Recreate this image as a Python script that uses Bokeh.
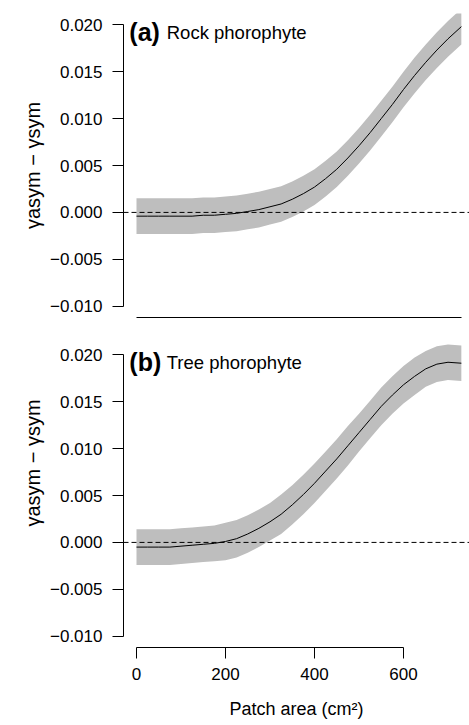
import math
from bokeh.plotting import figure
from bokeh.models import FixedTicker, Span, Label
from bokeh.layouts import column, row
from bokeh.core.properties import value
from bokeh.embed import file_html
from bokeh.resources import INLINE

# ---------------- data ----------------
area = [0, 25, 50, 75, 100, 125, 150, 175, 200, 225, 250, 275, 300, 325, 350,
        375, 400, 425, 450, 475, 500, 525, 550, 575, 600, 625, 650, 675, 700, 730]

rock_mean = [-0.0004, -0.0004, -0.0004, -0.0004, -0.0004, -0.0004, -0.0003, -0.0003,
             -0.0002, -0.0001, 0.0001, 0.0003, 0.0006, 0.0009, 0.0014, 0.0020,
             0.0027, 0.0036, 0.0046, 0.0058, 0.0071, 0.0085, 0.0100, 0.0115,
             0.0131, 0.0146, 0.0160, 0.0173, 0.0185, 0.0198]
rock_upper = [0.0015, 0.0015, 0.0015, 0.0015, 0.0015, 0.0015, 0.0016, 0.0016,
              0.0017, 0.0018, 0.0020, 0.0022, 0.0025, 0.0028, 0.0033, 0.0039,
              0.0046, 0.0055, 0.0065, 0.0077, 0.0090, 0.0104, 0.0119, 0.0134,
              0.0150, 0.0165, 0.0179, 0.0192, 0.0204, 0.0217]
rock_lower = [-0.0023, -0.0023, -0.0023, -0.0023, -0.0023, -0.0023, -0.0022, -0.0022,
              -0.0021, -0.0020, -0.0018, -0.0016, -0.0013, -0.0010, -0.0005, 0.0001,
              0.0008, 0.0017, 0.0027, 0.0039, 0.0052, 0.0066, 0.0081, 0.0096,
              0.0112, 0.0127, 0.0141, 0.0154, 0.0166, 0.0179]

tree_mean = [-0.0005, -0.0005, -0.0005, -0.0005, -0.0004, -0.0003, -0.0002, -0.0001,
             0.0001, 0.0004, 0.0009, 0.0015, 0.0022, 0.0030, 0.0040, 0.0051,
             0.0063, 0.0076, 0.0089, 0.0103, 0.0117, 0.0131, 0.0145, 0.0157,
             0.0168, 0.0177, 0.0185, 0.0190, 0.0192, 0.0191]
tree_upper = [0.0014, 0.0014, 0.0014, 0.0014, 0.0015, 0.0016, 0.0017, 0.0018,
              0.0021, 0.0024, 0.0029, 0.0035, 0.0042, 0.0051, 0.0061, 0.0072,
              0.0084, 0.0097, 0.0110, 0.0124, 0.0137, 0.0151, 0.0165, 0.0177,
              0.0188, 0.0197, 0.0204, 0.0209, 0.0211, 0.0210]
tree_lower = [-0.0024, -0.0024, -0.0024, -0.0024, -0.0023, -0.0022, -0.0021, -0.0020,
              -0.0019, -0.0016, -0.0011, -0.0005, 0.0002, 0.0009, 0.0019, 0.0030,
              0.0042, 0.0055, 0.0068, 0.0082, 0.0097, 0.0111, 0.0125, 0.0137,
              0.0148, 0.0157, 0.0166, 0.0171, 0.0173, 0.0172]

y_ticks = [-0.010, -0.005, 0.0, 0.005, 0.010, 0.015, 0.020]
y_tick_labels = ["\u22120.010", "\u22120.005", "0.000", "0.005", "0.010", "0.015", "0.020"]
x_ticks = [0, 200, 400, 600]
x_tick_labels = ["0", "200", "400", "600"]

panel_tags = ["(a)", "(b)"]
panel_names = ["Rock phorophyte", "Tree phorophyte"]
x_title = "Patch area (cm\u00b2)"
y_title = "\u03b3asym \u2212 \u03b3sym"

# ---------------- layout constants ----------------
FONT = "Liberation Sans"
TW = 45                      # width of the strip holding the y title
W = 469 - TW                 # main figure width
LEFT = 123 - TW              # left border of main figure
FRAME_H = 304
TOP_B = 13
X_RANGE = (-29.2, -29.2 + (W - LEFT) / 0.445)
Y_RANGE = (-0.0112, 0.0212)
SY = FRAME_H / (Y_RANGE[1] - Y_RANGE[0])
STRIP_H = TOP_B + FRAME_H + 13


def title_strip():
    """Narrow figure carrying the rotated y-axis title as one text."""
    height = STRIP_H
    t = figure(width=TW, height=height, x_range=(0, TW), y_range=(0, height),
               output_backend="svg", toolbar_location=None,
               min_border=0, x_axis_location=None, y_axis_location=None)
    t.outline_line_color = None
    t.grid.visible = False
    center_from_top = TOP_B + (Y_RANGE[1] - 0.005) * SY
    t.text(x=[32], y=[height - center_from_top], text=[y_title], angle=math.pi / 2,
           text_align="center", text_baseline="alphabetic",
           text_font=value(FONT), text_font_size="20px", text_color="black")
    return t


def make_panel(mean, lower, upper, tag, name, bottom_axis_ticks, bot_b):
    p = figure(width=W, height=TOP_B + FRAME_H + bot_b,
               x_range=X_RANGE, y_range=Y_RANGE,
               output_backend="svg", toolbar_location=None,
               min_border_left=LEFT, min_border_right=0,
               min_border_top=TOP_B, min_border_bottom=bot_b)
    p.outline_line_color = None
    p.grid.visible = False
    p.background_fill_color = "white"
    p.border_fill_color = "white"

    p.varea(x=area, y1=lower, y2=upper, fill_color="#bebebe", fill_alpha=1.0)
    p.line(x=area, y=mean, line_color="black", line_width=1)
    p.add_layout(Span(location=0, dimension="width", line_color="black",
                      line_width=1, line_dash="5 3"))

    ya = p.yaxis[0]
    ya.ticker = FixedTicker(ticks=y_ticks)
    ya.major_label_overrides = dict(zip(y_ticks, y_tick_labels))
    ya.bounds = (y_ticks[0], y_ticks[-1])
    ya.major_tick_in = 0
    ya.major_tick_out = 11
    ya.minor_tick_line_color = None
    ya.major_label_standoff = 10
    ya.major_label_text_font = FONT
    ya.major_label_text_font_size = "17px"
    ya.major_label_text_color = "black"
    ya.axis_line_color = "black"
    ya.major_tick_line_color = "black"

    xa = p.xaxis[0]
    xa.minor_tick_line_color = None
    xa.axis_line_color = "black"
    if bottom_axis_ticks:
        xa.ticker = FixedTicker(ticks=x_ticks)
        xa.major_label_overrides = dict(zip(x_ticks, x_tick_labels))
        xa.bounds = (x_ticks[0], x_ticks[-1])
        xa.major_tick_in = 0
        xa.major_tick_out = 11
        xa.major_tick_line_color = "black"
        xa.major_label_standoff = 9
        xa.major_label_text_font = FONT
        xa.major_label_text_font_size = "17px"
        xa.major_label_text_color = "black"
        xa.axis_label = x_title
        xa.axis_label_text_font = FONT
        xa.axis_label_text_font_size = "18px"
        xa.axis_label_text_font_style = "normal"
        xa.axis_label_text_color = "black"
        xa.axis_label_standoff = 16
    else:
        xa.ticker = FixedTicker(ticks=[])
        xa.bounds = (area[0], area[-1])
        xa.major_tick_line_color = None
        xa.major_label_text_font_size = "0px"

    p.add_layout(Label(x=-16, y=0.0192, text=tag,
                       text_font=FONT, text_font_style="bold", text_font_size="25px",
                       text_align="left", text_baseline="alphabetic", text_color="black"))
    p.add_layout(Label(x=68, y=0.0192, text=name,
                       text_font=FONT, text_font_size="18.5px",
                       text_align="left", text_baseline="alphabetic", text_color="black"))
    return p


p1 = make_panel(rock_mean, rock_lower, rock_upper, panel_tags[0], panel_names[0], False, 13)
p2 = make_panel(tree_mean, tree_lower, tree_upper, panel_tags[1], panel_names[1], True, 78)
t1 = title_strip()
t2 = title_strip()

layout = column(row(t1, p1), row(t2, p2))
open("out.html", "w").write(file_html(layout, INLINE))
